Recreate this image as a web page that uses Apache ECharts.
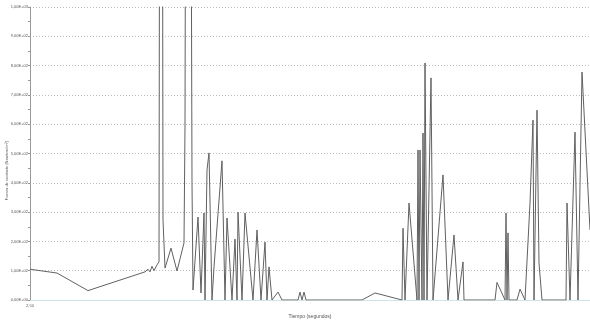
<!DOCTYPE html>
<html>
<head>
<meta charset="utf-8">
<script src="https://cdn.jsdelivr.net/npm/echarts@6/dist/echarts.min.js"></script>
<style>
  html, body { margin: 0; padding: 0; background: #fff; }
  #chart { width: 590px; height: 323px; }
</style>
</head>
<body>
<div id="chart"></div>
<script>
// tiempo (s) de cada muestra
const tiempo = [
  2.50, 3.85, 5.40, 8.25, 8.40, 8.50, 8.60, 8.70, 8.85, 8.95,
  9.05, 9.15, 9.25, 9.55, 9.85, 10.20, 10.25, 10.40, 10.60, 10.65,
  10.90, 11.05, 11.20, 11.25, 11.35, 11.45, 11.60, 11.70, 12.10, 12.25,
  12.35, 12.60, 12.75, 12.85, 12.90, 13.10, 13.25, 13.65, 13.85, 14.05,
  14.25, 14.35, 14.45, 14.60, 14.90, 15.10, 15.90, 16.00, 16.10, 16.20,
  16.30, 19.10, 19.75, 21.10, 21.15, 21.25, 21.45, 21.85, 21.90, 21.95,
  22.00, 22.10, 22.15, 22.20, 22.25, 22.35, 22.55, 22.65, 23.15, 23.40,
  23.70, 23.90, 24.15, 24.20, 25.75, 25.85, 26.25, 26.30, 26.35, 26.40,
  26.45, 26.85, 27.00, 27.25, 27.50, 27.65, 27.70, 27.85, 27.95, 28.10,
  29.30, 29.35, 29.50, 29.75, 29.90, 30.10, 30.50
];
// fuerza medida (los picos de 5000 salen por arriba del grafico)
const fuerza = [
  105, 92, 32, 96, 105, 96, 115, 100, 120, 130,
  5000, 273, 109, 177, 99, 195, 597, 5000, 400, 34,
  283, 24, 297, 0, 444, 502, 0, 113, 475, 0,
  280, 0, 208, 0, 300, 0, 297, 0, 239, 0,
  198, 0, 113, 0, 27, 0, 0, 27, 0, 27,
  0, 0, 24, 0, 245, 0, 331, 0, 512, 0,
  512, 0, 570, 0, 809, 0, 758, 0, 427, 0,
  222, 0, 130, 0, 0, 60, 0, 297, 0, 229,
  0, 0, 37, 0, 331, 614, 0, 648, 126, 0,
  0, 331, 0, 573, 0, 778, 239
];
const yTickLabels = [
  '0,00E+00', '1,00E+02', '2,00E+02', '3,00E+02', '4,00E+02', '5,00E+02',
  '6,00E+02', '7,00E+02', '8,00E+02', '9,00E+02', '1,00E+03'
];
const xTickLabels = { 2.5: '2,50' };

const chart = echarts.init(document.getElementById('chart'));

const option = {
  animation: false,
  grid: { left: 30, right: 0, top: 7, bottom: 23, containLabel: false, outerBoundsMode: 'none' },
  xAxis: {
    type: 'value',
    min: 2.5,
    max: 30.5,
    interval: 2.5,
    name: 'Tiempo (segundos)',
    nameLocation: 'middle',
    nameGap: 14,
    nameMoveOverlap: false,
    nameTextStyle: { fontSize: 5, color: '#555', fontFamily: 'Liberation Sans' },
    axisLine: { show: true, lineStyle: { color: '#cfe6e6', width: 1 } },
    axisTick: { show: false },
    splitLine: { show: false },
    axisLabel: {
      fontSize: 4,
      color: '#555',
      margin: 4,
      fontFamily: 'Liberation Sans',
      formatter: v => xTickLabels[v] || ''
    }
  },
  yAxis: {
    type: 'value',
    min: 0,
    max: 1000,
    interval: 100,
    name: 'Fuerza de contacto (Newtons/m²)',
    nameLocation: 'middle',
    nameRotate: 90,
    nameGap: 21,
    nameMoveOverlap: false,
    nameTextStyle: { fontSize: 4, color: '#555', fontFamily: 'Liberation Sans', padding: [0, 34, 0, 0] },
    axisLine: { show: true, lineStyle: { color: '#999', width: 1 } },
    axisTick: { show: true, inside: false, length: 2, lineStyle: { color: '#999' } },
    minorTick: { show: true, splitNumber: 2, length: 2, lineStyle: { color: '#999' } },
    splitLine: { show: true, lineStyle: { color: '#bcbcbc', type: [1, 2], width: 1 } },
    axisLabel: {
      fontSize: 4,
      color: '#555',
      margin: 2,
      fontFamily: 'Liberation Sans',
      formatter: v => yTickLabels[Math.round(v / 100)]
    }
  },
  series: [{
    type: 'line',
    data: tiempo.map((t, i) => [t, fuerza[i]]),
    showSymbol: false,
    clip: true,
    lineStyle: { color: '#606060', width: 1 }
  }]
};

chart.setOption(option);
</script>
</body>
</html>
